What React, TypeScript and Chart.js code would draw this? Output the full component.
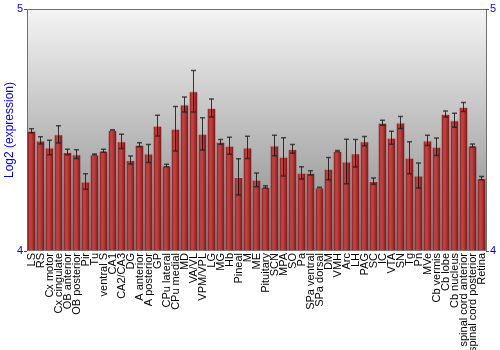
import React, { useEffect, useRef } from 'react';
import { Chart, registerables } from 'chart.js';

Chart.register(...registerables);

const categories = [
  'LS', 'RS', 'Cx motor', 'Cx cingulate', 'OB anterior', 'OB posterior', 'Pir', 'Tu', 'ventral S', 'CA1',
  'CA2/CA3', 'DG', 'A anterior', 'A posterior', 'GP', 'CPu lateral', 'CPu medial', 'MD', 'VA/VL', 'VPM/VPL',
  'LG', 'MG', 'Hb', 'Pineal', 'M', 'ME', 'Pituitary', 'SCN', 'MPA', 'SO',
  'Pa', 'SPa ventral', 'SPa dorsal', 'DM', 'VMH', 'Arc', 'LH', 'PAG', 'SC', 'IC',
  'VTA', 'SN', 'Tg', 'Pn', 'MVe', 'Cb vermis', 'Cb lobe', 'Cb nucleus', 'spinal cord anterior', 'spinal cord posterior',
  'Retina',
];

const values = [
  4.497, 4.457, 4.428, 4.482, 4.409, 4.400, 4.287, 4.399, 4.414, 4.500,
  4.453, 4.376, 4.439, 4.403, 4.518, 4.353, 4.505, 4.605, 4.660, 4.484,
  4.591, 4.451, 4.435, 4.306, 4.428, 4.294, 4.265, 4.436, 4.389, 4.422,
  4.323, 4.323, 4.262, 4.340, 4.413, 4.370, 4.404, 4.454, 4.289, 4.530,
  4.468, 4.531, 4.385, 4.312, 4.457, 4.431, 4.566, 4.540, 4.595, 4.436,
  4.301,
];

const errors = [
  0.008, 0.015, 0.030, 0.036, 0.011, 0.018, 0.032, 0.002, 0.006, 0.001,
  0.029, 0.017, 0.008, 0.037, 0.043, 0.005, 0.092, 0.031, 0.086, 0.067,
  0.037, 0.010, 0.035, 0.075, 0.046, 0.028, 0.005, 0.042, 0.079, 0.018,
  0.025, 0.009, 0.001, 0.046, 0.002, 0.092, 0.057, 0.019, 0.013, 0.010,
  0.027, 0.025, 0.066, 0.052, 0.021, 0.036, 0.012, 0.029, 0.019, 0.006,
  0.007,
];

const yMin = 4;
const yMax = 5;

const FONT = "'Liberation Sans', Arial, sans-serif";

const backgroundPlugin = {
  id: 'plotBackground',
  beforeDatasetsDraw(chart: any) {
    const { ctx, chartArea } = chart;
    const { left, top, right, bottom } = chartArea;
    ctx.save();
    const g = ctx.createLinearGradient(0, top, 0, bottom);
    g.addColorStop(0, '#f4f4f4');
    g.addColorStop(1, '#858585');
    ctx.fillStyle = g;
    ctx.fillRect(left, top, right - left, bottom - top);
    ctx.strokeStyle = '#707070';
    ctx.lineWidth = 1;
    ctx.beginPath();
    ctx.moveTo(Math.floor(left) + 0.5, bottom);
    ctx.lineTo(Math.floor(left) + 0.5, Math.floor(top) + 0.5);
    ctx.lineTo(Math.floor(right) + 0.5, Math.floor(top) + 0.5);
    ctx.lineTo(Math.floor(right) + 0.5, bottom);
    ctx.stroke();
    ctx.restore();
  },
};

const errorBarPlugin = {
  id: 'errorBars',
  afterDatasetsDraw(chart: any) {
    const { ctx } = chart;
    const x = chart.scales.x;
    const y = chart.scales.y;
    ctx.save();
    values.forEach((v, i) => {
      const cx = x.getPixelForValue(i);
      const yt = y.getPixelForValue(v + errors[i]);
      const yb = y.getPixelForValue(v - errors[i]);
      ctx.strokeStyle = 'rgba(0,0,0,0.75)';
      ctx.lineWidth = 1;
      ctx.beginPath();
      ctx.moveTo(cx, yt);
      ctx.lineTo(cx, yb);
      ctx.stroke();
      ctx.strokeStyle = 'rgba(30,30,30,0.75)';
      ctx.lineWidth = 1.5;
      ctx.beginPath();
      ctx.moveTo(cx - 2.5, yt);
      ctx.lineTo(cx + 2.5, yt);
      ctx.moveTo(cx - 2.5, yb);
      ctx.lineTo(cx + 2.5, yb);
      ctx.stroke();
    });
    ctx.restore();
  },
};

export default function App() {
  const canvasRef = useRef<HTMLCanvasElement | null>(null);

  useEffect(() => {
    document.body.style.margin = '0';
    const canvas = canvasRef.current;
    if (!canvas) return;

    const chart = new Chart(canvas, {
      type: 'bar',
      data: {
        labels: categories,
        datasets: [
          {
            data: values.map((v) => v),
            base: yMin,
            backgroundColor: (context: any) => {
              const ch = context.chart;
              const xs = ch.scales && ch.scales.x;
              if (!ch.chartArea || !xs || context.dataIndex === undefined) return '#a82a2a';
              const cx = xs.getPixelForValue(context.dataIndex);
              if (!Number.isFinite(cx)) return '#a82a2a';
              const g = ch.ctx.createLinearGradient(cx - 4, 0, cx + 4, 0);
              g.addColorStop(0, '#7a1616');
              g.addColorStop(0.3, '#c24646');
              g.addColorStop(0.55, '#b63a3a');
              g.addColorStop(1, '#761414');
              return g;
            },
            borderColor: 'rgba(225,150,150,0.85)',
            borderWidth: { top: 1, left: 0, right: 0, bottom: 0 },
            borderSkipped: 'bottom',
            barPercentage: 1,
            categoryPercentage: 8 / 9,
          } as any,
        ],
      },
      options: {
        animation: false,
        responsive: false,
        maintainAspectRatio: false,
        layout: { padding: { top: 9, left: 0, right: 0, bottom: 0 } },
        plugins: {
          legend: { display: false },
          tooltip: { enabled: false },
        },
        scales: {
          x: {
            type: 'category',
            grid: { display: false, drawTicks: false },
            border: { display: false },
            ticks: {
              autoSkip: false,
              minRotation: 90,
              maxRotation: 90,
              padding: 2,
              color: '#000',
              font: { family: FONT, size: 11 },
            },
            afterFit: (s: any) => {
              s.height = 99;
            },
          },
          y: {
            type: 'linear',
            position: 'left',
            min: yMin,
            max: yMax,
            ticks: {
              stepSize: 1,
              padding: 1,
              color: '#0000ff',
              font: { family: FONT, size: 11 },
            },
            grid: { display: true, drawOnChartArea: false, tickLength: 3, color: '#505050' },
            border: { display: false },
            title: {
              display: true,
              text: 'Log2 (expression)',
              color: '#0000ff',
              font: { family: FONT, size: 12 },
              padding: { top: 2, bottom: 2 },
            },
            afterFit: (s: any) => {
              s.width = 27;
            },
          },
          y2: {
            type: 'linear',
            position: 'right',
            min: yMin,
            max: yMax,
            ticks: {
              stepSize: 1,
              padding: 1,
              color: '#0000ff',
              font: { family: FONT, size: 11 },
            },
            grid: { display: true, drawOnChartArea: false, tickLength: 3, color: '#505050' },
            border: { display: false },
            afterFit: (s: any) => {
              s.width = 14;
            },
          },
        },
      },
      plugins: [backgroundPlugin, errorBarPlugin],
    });

    return () => {
      chart.destroy();
    };
  }, []);

  return (
    <div style={{ width: 500, height: 350 }}>
      <canvas ref={canvasRef} width={500} height={350} style={{ display: 'block' }} />
    </div>
  );
}
